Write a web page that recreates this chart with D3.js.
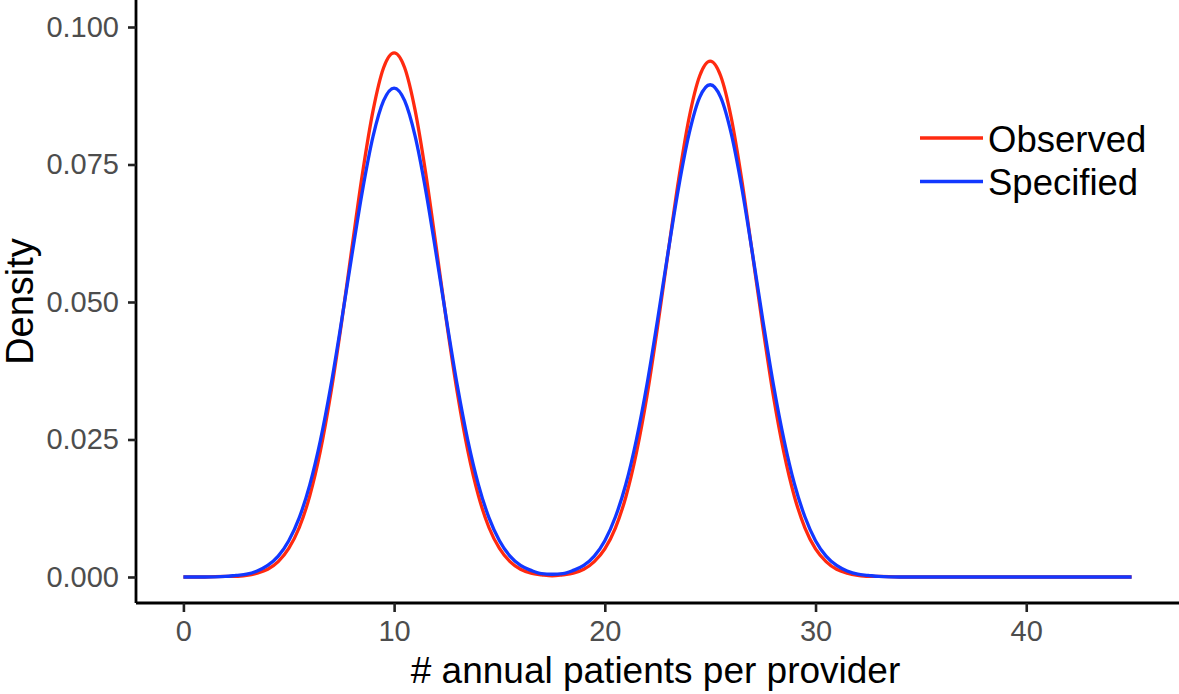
<!DOCTYPE html>
<html>
<head>
<meta charset="utf-8">
<script src="https://cdn.jsdelivr.net/npm/d3@7"></script>
<style>
  body { margin: 0; background: #fff; }
  svg text { font-family: "Liberation Sans", Arial, sans-serif; }
</style>
</head>
<body>
<div id="chart"></div>
<script>
// x positions (# annual patients per provider)
const xs = [0, 1, 2, 2.5, 3, 3.5, 4, 4.5, 5, 5.5, 6, 6.5, 7, 7.5, 8, 8.5, 9, 9.5, 10,
  10.5, 11, 11.5, 12, 12.5, 13, 13.5, 14, 14.5, 15, 15.5, 16, 16.5, 17, 17.5, 18,
  18.5, 19, 19.5, 20, 20.5, 21, 21.5, 22, 22.5, 23, 23.5, 24, 24.5, 25, 25.5, 26,
  26.5, 27, 27.5, 28, 28.5, 29, 29.5, 30, 30.5, 31, 31.5, 32, 32.5, 33, 34, 36, 40, 45];

// density
const observed = [0, 0, 0.0001, 0.0001, 0.0003, 0.0007, 0.0014, 0.0028, 0.0052, 0.0090,
  0.0148, 0.0229, 0.0335, 0.0461, 0.0599, 0.0734, 0.0848, 0.0926, 0.0953,
  0.0926, 0.0848, 0.0734, 0.0599, 0.0461, 0.0335, 0.0229, 0.0148, 0.0090, 0.0052,
  0.0028, 0.0014, 0.0007, 0.0004, 0.0002, 0.0004, 0.0007, 0.0014, 0.0028, 0.0051,
  0.0089, 0.0146, 0.0226, 0.0329, 0.0454, 0.0589, 0.0722, 0.0835, 0.0911, 0.0938,
  0.0911, 0.0835, 0.0722, 0.0589, 0.0454, 0.0329, 0.0226, 0.0146, 0.0089, 0.0051,
  0.0028, 0.0014, 0.0007, 0.0003, 0.0001, 0.0001, 0, 0, 0, 0];

const specified = [0, 0, 0.0001, 0.0003, 0.0005, 0.0011, 0.0021, 0.0038, 0.0066, 0.0108,
  0.0168, 0.0248, 0.0348, 0.0464, 0.0586, 0.0703, 0.0801, 0.0866, 0.0889,
  0.0866, 0.0801, 0.0703, 0.0586, 0.0464, 0.0348, 0.0248, 0.0168, 0.0108, 0.0066,
  0.0038, 0.0021, 0.0012, 0.0006, 0.0005, 0.0006, 0.0012, 0.0021, 0.0038, 0.0066,
  0.0109, 0.0169, 0.0250, 0.0350, 0.0467, 0.0590, 0.0708, 0.0806, 0.0872, 0.0895,
  0.0872, 0.0806, 0.0708, 0.0590, 0.0467, 0.0350, 0.0250, 0.0169, 0.0109, 0.0066,
  0.0038, 0.0021, 0.0011, 0.0005, 0.0003, 0.0001, 0, 0, 0, 0];

const xTicks = [0, 10, 20, 30, 40];
const yTicks = [0, 0.025, 0.05, 0.075, 0.1];
const seriesNames = ["Observed", "Specified"];
const seriesColors = ["#ff2a10", "#1238ff"];

const width = 1179, height = 694;
const panel = { left: 136, right: 1179, top: 0, bottom: 603 };

const svg = d3.select("#chart").append("svg")
  .attr("width", width)
  .attr("height", height);

const x = d3.scaleLinear().domain([-2.25, 47.25]).range([panel.left, panel.right]);
const y = d3.scaleLinear().domain([-0.00473, 0.10491]).range([panel.bottom, panel.top]);

// lines, observed first so specified sits on top
const line = d3.line()
  .x((d, i) => x(xs[i]))
  .y(d => y(d))
  .curve(d3.curveMonotoneX);

[observed, specified].forEach((vals, k) => {
  svg.append("path")
    .datum(vals)
    .attr("fill", "none")
    .attr("stroke", seriesColors[k])
    .attr("stroke-width", 3.3)
    .attr("stroke-linejoin", "round")
    .attr("stroke-linecap", "butt")
    .attr("d", line);
});

// axes
const xAxis = svg.append("g")
  .attr("transform", `translate(0,${panel.bottom})`)
  .call(d3.axisBottom(x).tickValues(xTicks).tickSize(9).tickPadding(8).tickFormat(d3.format("d")));
const yAxis = svg.append("g")
  .attr("transform", `translate(${panel.left},0)`)
  .call(d3.axisLeft(y).tickValues(yTicks).tickSize(8).tickPadding(9).tickFormat(d3.format(".3f")));

[xAxis, yAxis].forEach(g => {
  g.select(".domain").attr("stroke", "#000").attr("stroke-width", 2.8);
  g.selectAll(".tick line").attr("stroke", "#222").attr("stroke-width", 2.6);
  g.selectAll(".tick text").attr("fill", "#4d4d4d").style("font-size", "29px");
});
xAxis.select(".domain").attr("d", `M${panel.left},0H${panel.right}`);
yAxis.select(".domain").attr("d", `M0,${panel.top}V${panel.bottom}`);

// axis titles
svg.append("text")
  .attr("x", (panel.left + panel.right) / 2 - 2)
  .attr("y", 683)
  .attr("text-anchor", "middle")
  .style("font-size", "37px")
  .text("# annual patients per provider");

svg.append("text")
  .attr("transform", `translate(33,${(panel.top + panel.bottom) / 2}) rotate(-90)`)
  .attr("text-anchor", "middle")
  .style("font-size", "38px")
  .text("Density");

// legend
const legend = svg.append("g").attr("transform", "translate(920,138)");
seriesNames.forEach((name, i) => {
  const row = legend.append("g").attr("transform", `translate(0,${i * 43.5})`);
  row.append("line")
    .attr("x1", 0).attr("x2", 63)
    .attr("stroke", seriesColors[i])
    .attr("stroke-width", 3.3);
  row.append("text")
    .attr("x", 68)
    .attr("y", 13.5)
    .style("font-size", "36.5px")
    .text(name);
});
</script>
</body>
</html>
